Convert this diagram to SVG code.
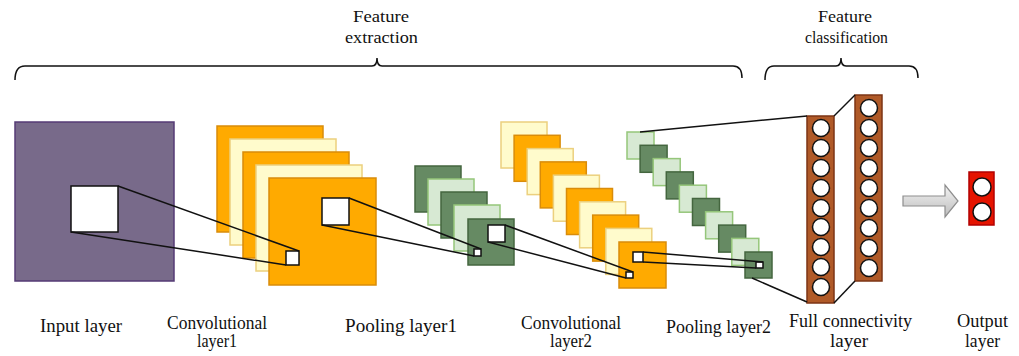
<svg xmlns="http://www.w3.org/2000/svg" width="1019" height="356" viewBox="0 0 1019 356">
<defs>
<linearGradient id="arrowGrad" x1="0" y1="0" x2="0" y2="1">
<stop offset="0" stop-color="#f4f4f4"/>
<stop offset="1" stop-color="#bdbdbd"/>
</linearGradient>
</defs>
<style>
.txt{font-family:"Liberation Serif","Times New Roman",serif;font-size:18px;fill:#111}
.ttl{font-family:"Liberation Serif","Times New Roman",serif;font-size:17px;fill:#111}
.or{fill:#ffaa00;stroke:#d98c0a;stroke-width:1.5}
.ye{fill:#fffbcc;stroke:#ecd07e;stroke-width:1.5}
.dg{fill:#668a63;stroke:#44663f;stroke-width:1.5}
.lg{fill:#d7e9d3;stroke:#95c67a;stroke-width:1.5}
.wh{fill:#ffffff;stroke:#111;stroke-width:1.5}
.br{fill:#b05a28;stroke:#7c3414;stroke-width:1.5}
.cir{fill:#ffffff;stroke:#111;stroke-width:1.5}
.ln{fill:none;stroke:#111;stroke-width:1.5}
</style>

<g id="input-layer">
<rect x="15" y="122" width="159" height="159" fill="#786a8a" stroke="#553b75" stroke-width="1.5"/>
<rect class="wh" x="71" y="186" width="47" height="46"/>
</g>

<g id="conv-layer1">
<rect class="or" x="217" y="126" width="106" height="106"/>
<rect class="ye" x="230" y="139" width="106" height="106"/>
<rect class="or" x="243" y="152" width="106" height="106"/>
<rect class="ye" x="256" y="165" width="106" height="106"/>
<rect class="or" x="269" y="178" width="107" height="107"/>
<rect class="wh" x="322" y="198" width="27" height="27"/>
<rect class="wh" x="286" y="251" width="13" height="14"/>
</g>

<g id="pooling-layer1">
<rect class="dg" x="415" y="166" width="46" height="46"/>
<rect class="lg" x="428" y="179" width="46" height="46"/>
<rect class="dg" x="441" y="192" width="46" height="46"/>
<rect class="lg" x="454" y="205" width="46" height="46"/>
<rect class="dg" x="468" y="219" width="46" height="46"/>
<rect class="wh" x="488" y="225" width="17" height="17"/>
<rect class="wh" x="474" y="249" width="7" height="7"/>
</g>

<g id="conv-layer2">
<rect class="ye" x="501" y="122" width="46" height="46"/>
<rect class="or" x="514.1" y="135.3" width="46" height="46"/>
<rect class="ye" x="527.2" y="148.6" width="46" height="46"/>
<rect class="or" x="540.3" y="161.9" width="46" height="46"/>
<rect class="ye" x="553.4" y="175.2" width="46" height="46"/>
<rect class="or" x="566.5" y="188.5" width="46" height="46"/>
<rect class="ye" x="579.6" y="201.8" width="46" height="46"/>
<rect class="or" x="592.7" y="215.1" width="46" height="46"/>
<rect class="ye" x="605.8" y="228.4" width="46" height="46"/>
<rect class="or" x="619" y="242" width="47" height="46"/>
<rect class="wh" x="633" y="252" width="10" height="10"/>
<rect class="wh" x="626" y="272" width="7" height="6"/>
</g>

<g id="pooling-layer2">
<rect class="lg" x="627" y="132" width="27" height="27"/>
<rect class="dg" x="640.1" y="145.3" width="27" height="27"/>
<rect class="lg" x="653.2" y="158.6" width="27" height="27"/>
<rect class="dg" x="666.3" y="171.9" width="27" height="27"/>
<rect class="lg" x="679.4" y="185.2" width="27" height="27"/>
<rect class="dg" x="692.5" y="198.5" width="27" height="27"/>
<rect class="lg" x="705.6" y="211.8" width="27" height="27"/>
<rect class="dg" x="718.7" y="225.1" width="27" height="27"/>
<rect class="lg" x="731.8" y="238.4" width="27" height="27"/>
<rect class="dg" x="745" y="252" width="27" height="26"/>
<rect class="wh" x="756" y="262" width="7" height="6"/>
</g>

<g id="full-connectivity-layer">
<rect class="br" x="807" y="116" width="27" height="187"/>
<circle class="cir" cx="821" cy="128" r="8.5"/>
<circle class="cir" cx="821" cy="148" r="8.5"/>
<circle class="cir" cx="821" cy="168" r="8.5"/>
<circle class="cir" cx="821" cy="188" r="8.5"/>
<circle class="cir" cx="821" cy="208" r="8.5"/>
<circle class="cir" cx="821" cy="227" r="8.5"/>
<circle class="cir" cx="821" cy="247" r="8.5"/>
<circle class="cir" cx="821" cy="267" r="8.5"/>
<circle class="cir" cx="821" cy="287" r="8.5"/>
<rect class="br" x="855" y="95" width="27" height="186"/>
<circle class="cir" cx="869" cy="108" r="8.5"/>
<circle class="cir" cx="869" cy="128" r="8.5"/>
<circle class="cir" cx="869" cy="148" r="8.5"/>
<circle class="cir" cx="869" cy="168" r="8.5"/>
<circle class="cir" cx="869" cy="188" r="8.5"/>
<circle class="cir" cx="869" cy="208" r="8.5"/>
<circle class="cir" cx="869" cy="228" r="8.5"/>
<circle class="cir" cx="869" cy="248" r="8.5"/>
<circle class="cir" cx="869" cy="268" r="8.5"/>
</g>

<g id="output-layer">
<path d="M903,196 L945,196 L945,185 L958,201 L945,217 L945,206 L903,206 Z" fill="url(#arrowGrad)" stroke="#8e8e8e" stroke-width="1.2"/>
<rect x="969" y="172" width="25" height="53" fill="#e51400" stroke="#b20000" stroke-width="1.5"/>
<circle class="cir" cx="982" cy="187" r="9"/>
<circle class="cir" cx="982" cy="212" r="9"/>
</g>

<g id="connectors">
<line class="ln" x1="118" y1="186" x2="299" y2="251"/>
<line class="ln" x1="71" y1="232" x2="286" y2="265"/>
<line class="ln" x1="349" y1="198" x2="481" y2="249"/>
<line class="ln" x1="322" y1="225" x2="474" y2="256"/>
<line class="ln" x1="505" y1="225" x2="633" y2="272"/>
<line class="ln" x1="488" y1="242" x2="626" y2="278"/>
<line class="ln" x1="643" y1="252" x2="763" y2="262"/>
<line class="ln" x1="643" y1="262" x2="756" y2="268"/>
<line class="ln" x1="640" y1="132" x2="807" y2="116"/>
<line class="ln" x1="752" y1="278" x2="807" y2="302"/>
<line class="ln" x1="834" y1="116" x2="855" y2="95"/>
<line class="ln" x1="834" y1="303" x2="855" y2="281"/>
</g>

<g id="brace-extraction">
<path class="ln" d="M15,80 Q15,66 25,66 L372,66 Q377,66 377,58 Q377,66 382,66 L733,66 Q742,66 742,78"/>
<text class="ttl" x="353" y="22" textLength="56" lengthAdjust="spacingAndGlyphs">Feature</text>
<text class="ttl" x="345" y="43" textLength="73" lengthAdjust="spacingAndGlyphs">extraction</text>
</g>

<g id="brace-classification">
<path class="ln" d="M765,80 Q765,66 774,66 L836,66 Q841,66 841,58 Q841,66 846,66 L909,66 Q918,66 918,78"/>
<text class="ttl" x="818" y="22" textLength="54" lengthAdjust="spacingAndGlyphs">Feature</text>
<text class="ttl" x="805" y="43" textLength="83" lengthAdjust="spacingAndGlyphs">classification</text>
</g>

<g id="labels">
<text class="txt" x="40" y="332" textLength="82" lengthAdjust="spacingAndGlyphs">Input layer</text>
<text class="txt" x="167" y="329" textLength="100" lengthAdjust="spacingAndGlyphs">Convolutional</text>
<text class="txt" x="197" y="347" textLength="40" lengthAdjust="spacingAndGlyphs">layer1</text>
<text class="txt" x="345" y="332" textLength="112" lengthAdjust="spacingAndGlyphs">Pooling layer1</text>
<text class="txt" x="521" y="329" textLength="100" lengthAdjust="spacingAndGlyphs">Convolutional</text>
<text class="txt" x="550" y="347" textLength="42" lengthAdjust="spacingAndGlyphs">layer2</text>
<text class="txt" x="666" y="333" textLength="105" lengthAdjust="spacingAndGlyphs">Pooling layer2</text>
<text class="txt" x="789" y="327" textLength="123" lengthAdjust="spacingAndGlyphs">Full connectivity</text>
<text class="txt" x="830" y="347" textLength="38" lengthAdjust="spacingAndGlyphs">layer</text>
<text class="txt" x="957" y="327" textLength="51" lengthAdjust="spacingAndGlyphs">Output</text>
<text class="txt" x="965" y="347" textLength="35" lengthAdjust="spacingAndGlyphs">layer</text>
</g>
</svg>
